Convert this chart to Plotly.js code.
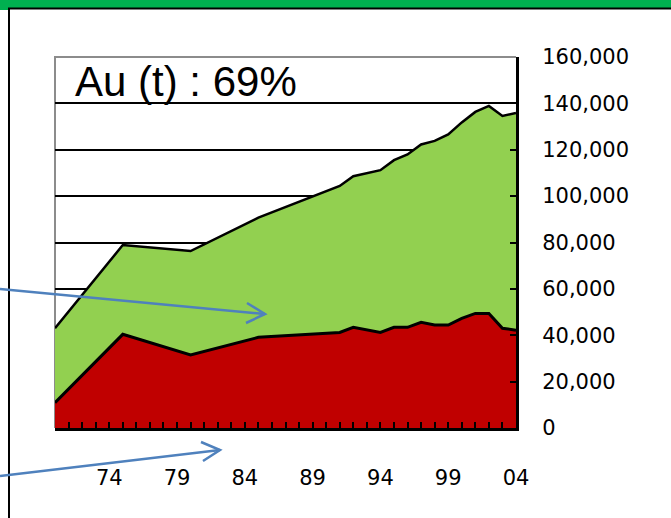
<!DOCTYPE html>
<html>
<head>
<meta charset="utf-8">
<script src="https://cdn.plot.ly/plotly-3.0.1.min.js"></script>
<style>
  body { margin: 0; background: #fff; }
  #plotArea { width: 671px; height: 518px; }
</style>
</head>
<body>
<div id="plotArea"></div>
<script>
// years where the lines bend
var years = [1970, 1975, 1980, 1985, 1991, 1992, 1994, 1995, 1996, 1997, 1998, 1999, 2000, 2001, 2002, 2003, 2004];
var totalAu = [43000, 78900, 76300, 90700, 104400, 108600, 111200, 115500, 118000, 122300, 123800, 126600, 131800, 136300, 138900, 134600, 135900];
var shareAu = [10900, 40400, 31500, 39100, 41200, 43400, 41200, 43400, 43400, 45600, 44400, 44400, 47300, 49400, 49400, 43000, 42200];

var tickYears = [1974, 1979, 1984, 1989, 1994, 1999, 2004];
var tickText = ["74", "79", "84", "89", "94", "99", "04"];

var titleText = "Au (t) : 69%";

// pixel -> paper helpers for decorations
var L = 55, R = 516, T = 57, B = 428;
function px(x) { return (x - L) / (R - L); }
function py(y) { return (B - y) / (B - T); }

var green = {
    x: years, y: totalAu,
    type: "scatter", mode: "lines",
    fill: "tozeroy", fillcolor: "#92d050",
    line: {color: "black", width: 2.5},
    hoverinfo: "skip"
};
var red = {
    x: years, y: shareAu,
    type: "scatter", mode: "lines",
    fill: "tozeroy", fillcolor: "#c00000",
    line: {color: "black", width: 3},
    hoverinfo: "skip"
};

var blue = "#4f81bd";
var shapes = [
    // green band at the top of the slide
    {type: "rect", xref: "paper", yref: "paper", x0: px(0), x1: px(671), y0: py(8), y1: py(0),
     fillcolor: "#00b050", line: {width: 0}},
    {type: "rect", xref: "paper", yref: "paper", x0: px(0), x1: px(8), y0: py(10), y1: py(0),
     fillcolor: "#00b050", line: {width: 0}},
    // black frame
    {type: "line", xref: "paper", yref: "paper", x0: px(8), x1: px(671), y0: py(8.5), y1: py(8.5),
     line: {color: "black", width: 2}},
    {type: "line", xref: "paper", yref: "paper", x0: px(9), x1: px(9), y0: py(8), y1: py(518),
     line: {color: "black", width: 2}},
    // gray plot border (left and top)
    {type: "path", xref: "paper", yref: "paper", layer: "below",
     path: "M 0 0 L 0 1 L 1 1", line: {color: "#8c8c8c", width: 2}},
    // arrows
    {type: "line", xref: "paper", yref: "paper", x0: px(0), y0: py(289), x1: px(265), y1: py(314),
     line: {color: blue, width: 2.5}},
    {type: "path", xref: "paper", yref: "paper",
     path: "M " + px(247) + " " + py(303) + " L " + px(265) + " " + py(314) + " L " + px(246) + " " + py(323),
     line: {color: blue, width: 2.5}},
    {type: "line", xref: "paper", yref: "paper", x0: px(0), y0: py(476), x1: px(220), y1: py(450),
     line: {color: blue, width: 2.5}},
    {type: "path", xref: "paper", yref: "paper",
     path: "M " + px(201) + " " + py(442) + " L " + px(220) + " " + py(450) + " L " + px(203) + " " + py(461),
     line: {color: blue, width: 2.5}}
];

var layout = {
    width: 671, height: 518,
    margin: {l: 55, r: 155, t: 57, b: 90},
    paper_bgcolor: "white", plot_bgcolor: "white",
    showlegend: false,
    title: {
        text: titleText,
        font: {family: "Liberation Sans, Arial", size: 42, color: "black"},
        x: 75 / 671, xanchor: "left", xref: "container",
        y: 1 - 81 / 518, yanchor: "middle"
    },
    xaxis: {
        range: [1970, 2004],
        tickmode: "array", tickvals: tickYears, ticktext: tickText,
        ticks: "inside", ticklen: 6, tickwidth: 2, tickcolor: "black",
        minor: {tickmode: "linear", tick0: 1970, dtick: 1, ticks: "inside", ticklen: 6, tickwidth: 2, tickcolor: "black"},
        showgrid: false, zeroline: false,
        showline: true, linecolor: "black", linewidth: 3,
        ticklabelstandoff: 29,
        tickfont: {family: "DejaVu Sans", size: 21, color: "black"},
        fixedrange: true
    },
    yaxis: {
        side: "right",
        range: [0, 160000], dtick: 20000, tickformat: ",d",
        ticks: "inside", ticklen: 6, tickwidth: 2, tickcolor: "black",
        showgrid: true, gridcolor: "black", gridwidth: 2,
        zeroline: false,
        showline: true, linecolor: "black", linewidth: 3,
        ticklabelstandoff: 19,
        tickfont: {family: "DejaVu Sans", size: 21, color: "black"},
        fixedrange: true
    },
    shapes: shapes
};

Plotly.newPlot("plotArea", [green, red], layout, {staticPlot: true});
</script>
</body>
</html>
